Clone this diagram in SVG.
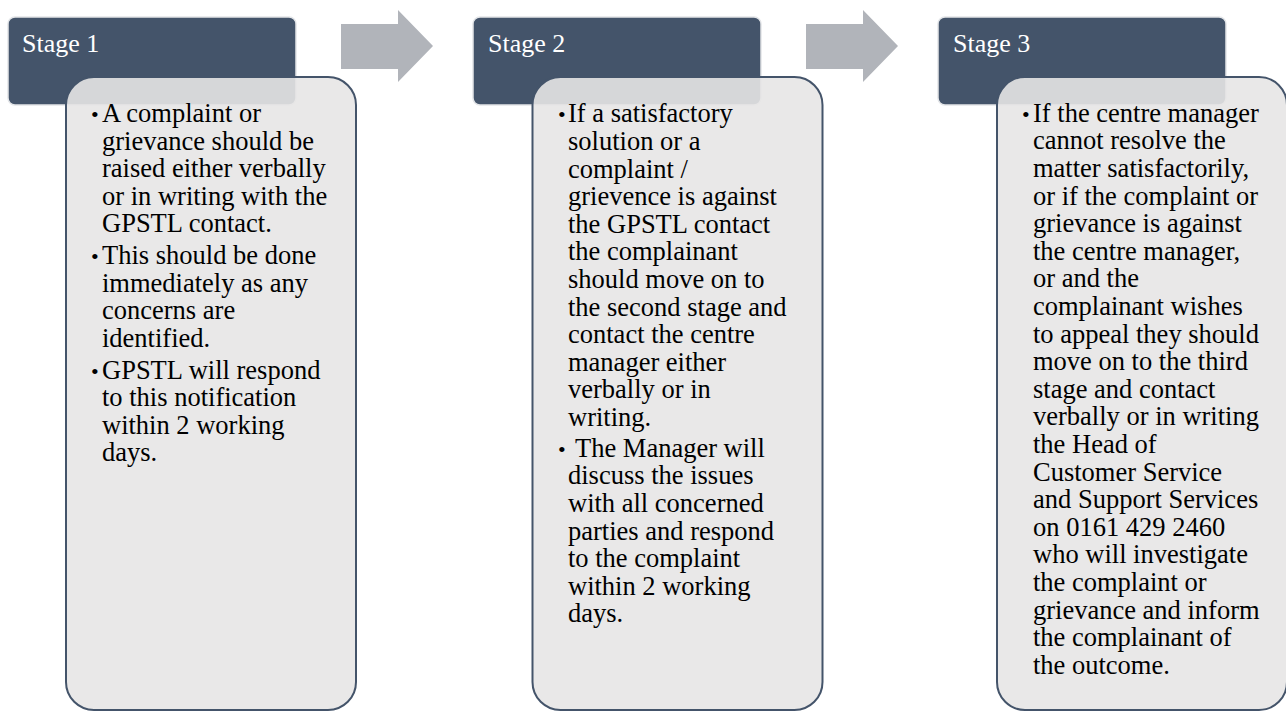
<svg xmlns="http://www.w3.org/2000/svg" width="1286" height="711" viewBox="0 0 1286 711">
<style>
.hdr{fill:#44546A;stroke:#E3E5E8;stroke-width:1.5}
.body{fill:#E7E6E6;fill-opacity:0.9;stroke:#44546A;stroke-width:2}
.arrow{fill:#B1B4BA}
.ht{font-family:"Liberation Serif","Times New Roman",serif;font-size:26px;fill:#FFFFFF}
.bt{font-family:"Liberation Serif","Times New Roman",serif;font-size:26.5px;fill:#000000}
.bl{font-family:"Liberation Serif","Times New Roman",serif;font-size:22px;fill:#000000}
</style>
<rect width="1286" height="711" fill="#FFFFFF"/>
<g id="connectors">
<polygon class="arrow" points="341,24 398,24 398,10 433,46 398,82 398,69 341,69"/>
<polygon class="arrow" points="806,24 863,24 863,10 898,46 863,82 863,69 806,69"/>
</g>
<g id="stage1">
<rect class="hdr" x="8" y="17" width="288" height="88" rx="7"/>
<text class="ht" x="22" y="52">Stage 1</text>
<rect class="body" x="66" y="77" width="290" height="633" rx="28"/>
<text class="bl" x="91" y="122">•</text>
<text class="bl" x="91" y="264">•</text>
<text class="bl" x="91" y="378.5">•</text>
<text class="bt">
<tspan x="102" y="122">A complaint or</tspan>
<tspan x="102" y="149.5">grievance should be</tspan>
<tspan x="102" y="177">raised either verbally</tspan>
<tspan x="102" y="204.5">or in writing with the</tspan>
<tspan x="102" y="232">GPSTL contact.</tspan>
<tspan x="102" y="264">This should be done</tspan>
<tspan x="102" y="291.5">immediately as any</tspan>
<tspan x="102" y="319">concerns are</tspan>
<tspan x="102" y="346.5">identified.</tspan>
<tspan x="102" y="378.5">GPSTL will respond</tspan>
<tspan x="102" y="406">to this notification</tspan>
<tspan x="102" y="433.5">within 2 working</tspan>
<tspan x="102" y="461">days.</tspan>
</text>
</g>
<g id="stage2">
<rect class="hdr" x="473" y="17" width="288" height="88" rx="7"/>
<text class="ht" x="488" y="52">Stage 2</text>
<rect class="body" x="532.5" y="77" width="290" height="633" rx="28"/>
<text class="bl" x="558" y="122">•</text>
<text class="bl" x="558" y="456.7">•</text>
<text class="bt">
<tspan x="568" y="122.3">If a satisfactory</tspan>
<tspan x="568" y="149.9">solution or a</tspan>
<tspan x="568" y="177.5">complaint /</tspan>
<tspan x="568" y="205.1">grievence is against</tspan>
<tspan x="568" y="232.7">the GPSTL contact</tspan>
<tspan x="568" y="260.3">the complainant</tspan>
<tspan x="568" y="287.9">should move on to</tspan>
<tspan x="568" y="315.5">the second stage and</tspan>
<tspan x="568" y="343.1">contact the centre</tspan>
<tspan x="568" y="370.7">manager either</tspan>
<tspan x="568" y="398.3">verbally or in</tspan>
<tspan x="568" y="425.9">writing.</tspan>
<tspan x="575" y="456.7">The Manager will</tspan>
<tspan x="568" y="484.3">discuss the issues</tspan>
<tspan x="568" y="511.9">with all concerned</tspan>
<tspan x="568" y="539.5">parties and respond</tspan>
<tspan x="568" y="567.1">to the complaint</tspan>
<tspan x="568" y="594.7">within 2 working</tspan>
<tspan x="568" y="622.3">days.</tspan>
</text>
</g>
<g id="stage3">
<rect class="hdr" x="938" y="17" width="288" height="88" rx="7"/>
<text class="ht" x="953" y="52">Stage 3</text>
<rect class="body" x="997" y="77" width="290" height="633" rx="28"/>
<text class="bl" x="1022" y="121.7">•</text>
<text class="bt">
<tspan x="1033" y="121.7">If the centre manager</tspan>
<tspan x="1033" y="149.3">cannot resolve the</tspan>
<tspan x="1033" y="176.9">matter satisfactorily,</tspan>
<tspan x="1033" y="204.5">or if the complaint or</tspan>
<tspan x="1033" y="232.1">grievance is against</tspan>
<tspan x="1033" y="259.7">the centre manager,</tspan>
<tspan x="1033" y="287.3">or and the</tspan>
<tspan x="1033" y="314.9">complainant wishes</tspan>
<tspan x="1033" y="342.5">to appeal they should</tspan>
<tspan x="1033" y="370.1">move on to the third</tspan>
<tspan x="1033" y="397.7">stage and contact</tspan>
<tspan x="1033" y="425.3">verbally or in writing</tspan>
<tspan x="1033" y="452.9">the Head of</tspan>
<tspan x="1033" y="480.5">Customer Service</tspan>
<tspan x="1033" y="508.1">and Support Services</tspan>
<tspan x="1033" y="535.7">on 0161 429 2460</tspan>
<tspan x="1033" y="563.3">who will investigate</tspan>
<tspan x="1033" y="590.9">the complaint or</tspan>
<tspan x="1033" y="618.5">grievance and inform</tspan>
<tspan x="1033" y="646.1">the complainant of</tspan>
<tspan x="1033" y="673.7">the outcome.</tspan>
</text>
</g>
</svg>
